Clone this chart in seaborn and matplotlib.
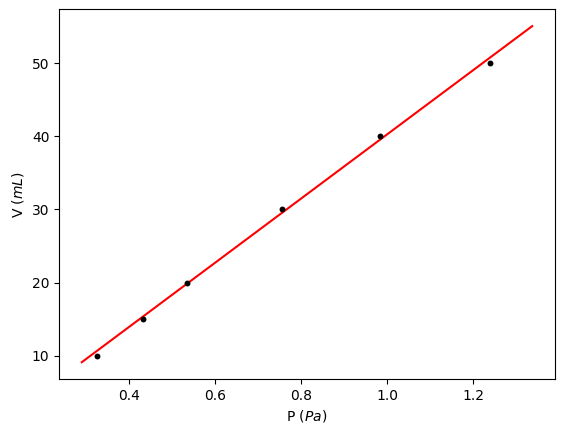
import numpy as np
import pandas as pd
import matplotlib
matplotlib.use("Agg")
import matplotlib.pyplot as plt
import seaborn as sns

# measured points
pressure = [0.325, 0.432, 0.534, 0.756, 0.984, 1.239]
volume = [10, 15, 20, 30, 40, 50]

# end points of the fitted line
fit_p = [0.289, 1.337]
fit_v = [9.13, 55.05]

df = pd.DataFrame({"P": pressure, "V": volume})
fit = pd.DataFrame({"P": fit_p, "V": fit_v})

fig = plt.figure(figsize=(5.64, 4.34), dpi=100)
ax = fig.add_axes([0.1051, 0.1267, 0.8784, 0.8518])

sns.scatterplot(x="P", y="V", data=df, ax=ax, color="black", s=18,
                linewidth=0, zorder=3)
sns.lineplot(x="P", y="V", data=fit, ax=ax, color="red", linewidth=1.5)

ax.set_xlabel("P ($Pa$)")
ax.set_ylabel("V ($mL$)")

fig.savefig("out.png", dpi=100)
